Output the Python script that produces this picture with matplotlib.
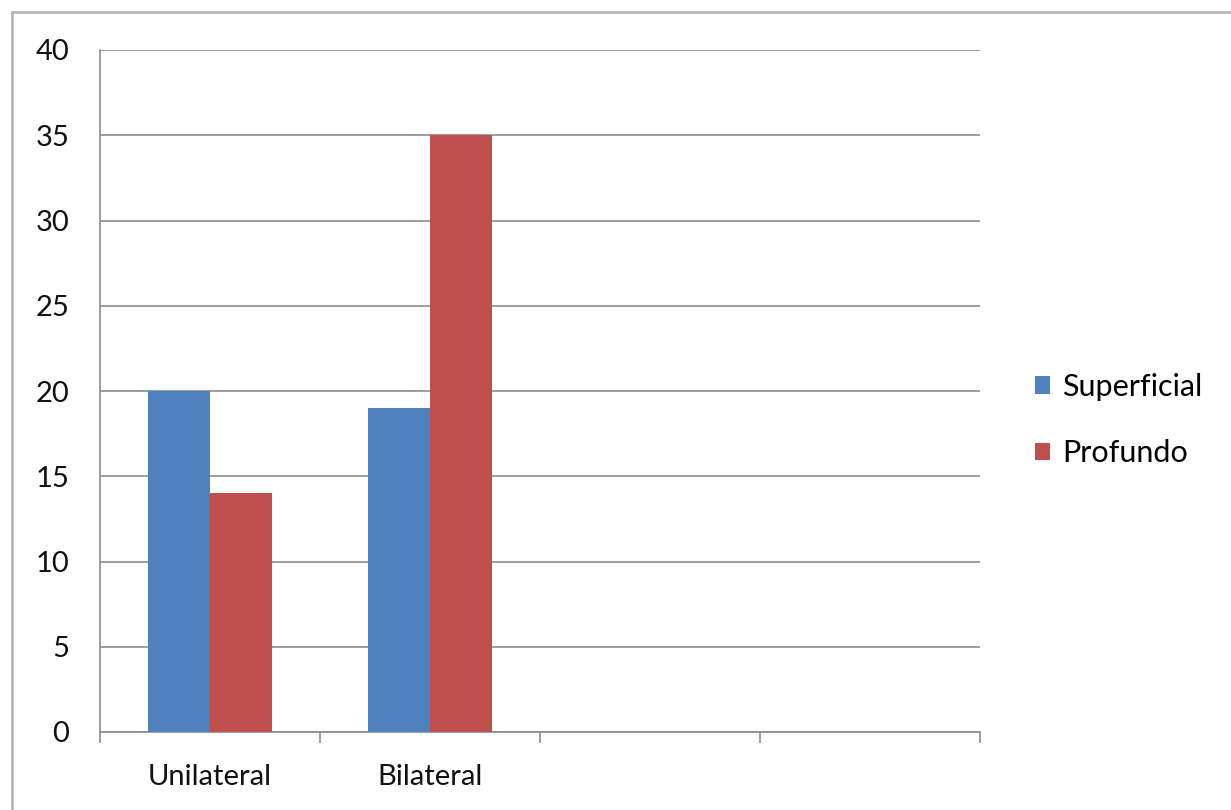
import matplotlib
matplotlib.use("Agg")
import matplotlib.pyplot as plt
import numpy as np
from matplotlib.lines import Line2D

categories = ["Unilateral", "Bilateral", "", ""]
superficial = [20, 19]
profundo = [14, 35]
yticks = [0, 5, 10, 15, 20, 25, 30, 35, 40]

plt.rcParams["font.family"] = ["Lato", "DejaVu Sans"]

fig = plt.figure(figsize=(12.31, 8.10), dpi=100)
ax = fig.add_axes([100 / 1231, 1 - 732 / 810, 880 / 1231, 682 / 810])

# outer chart frame (left and top edges only visible)
fig.add_artist(Line2D([12 / 1231, 12 / 1231], [0, 1 - 12 / 810], transform=fig.transFigure,
                      color="#b8b8b8", lw=2))
fig.add_artist(Line2D([12 / 1231, 1], [1 - 12 / 810, 1 - 12 / 810], transform=fig.transFigure,
                      color="#b8b8b8", lw=2))

w = 0.282
x = np.arange(len(superficial)) + 0.5
ax.bar(x - w / 2, superficial, w, color="#4f81bd", label="Superficial", zorder=3)
ax.bar(x + w / 2, profundo, w, color="#c0504d", label="Profundo", zorder=3)

ax.set_xlim(0, len(categories))
ax.set_ylim(0, 40)
ax.set_yticks(yticks)
ax.yaxis.grid(True, color="#8c8c8c", lw=1.2, zorder=0)
ax.tick_params(axis="y", length=0, pad=22, labelsize=21, labelcolor="#111111")

ax.set_xticks(np.arange(len(categories) + 1))
ax.set_xticklabels([])
ax.set_xticks(np.arange(len(categories)) + 0.5, minor=True)
ax.set_xticklabels(categories, minor=True)
ax.tick_params(axis="x", which="major", length=8, width=1.2, color="#8c8c8c", direction="out")
ax.tick_params(axis="x", which="minor", length=0, pad=23, labelsize=21, labelcolor="#111111")

for s in ["top", "right"]:
    ax.spines[s].set_visible(False)
for s in ["left", "bottom"]:
    ax.spines[s].set_color("#8c8c8c")
    ax.spines[s].set_linewidth(1.2)

ax.legend(loc="center left", bbox_to_anchor=(1035 / 1231, 1 - 420 / 810),
          bbox_transform=fig.transFigure, frameon=False, fontsize=22,
          handlelength=0.5, handleheight=0.5, handletextpad=0.4,
          labelspacing=1.25, borderpad=0, borderaxespad=0)

fig.savefig("out.png", dpi=100)
